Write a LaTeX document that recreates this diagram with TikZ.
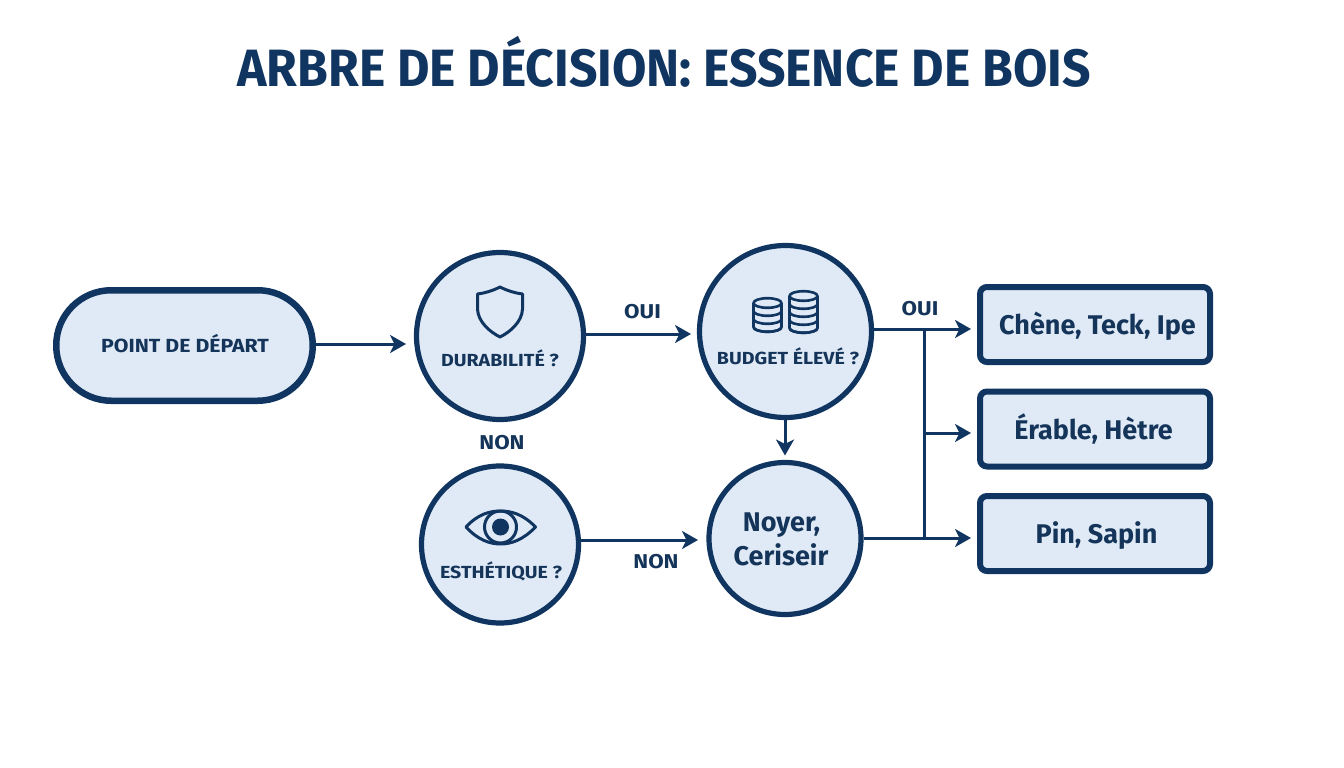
\documentclass[tikz,border=0pt]{standalone}
\usepackage{fontspec}
\setmainfont{Fira Sans}
\newfontfamily\capfont[FakeStretch=1.12]{Fira Sans}
\newfontfamily\titlefont[FakeStretch=0.95]{Fira Sans}
\usetikzlibrary{arrows.meta,calc}
\definecolor{navy}{HTML}{0F3560}
\definecolor{ink}{HTML}{143559}
\definecolor{pale}{HTML}{E0EAF6}
\tikzset{
  disc/.style={draw=navy,line width=5.2pt,fill=pale,circle,inner sep=0pt,minimum size=#1},
  outcome/.style={draw=navy,line width=6pt,fill=pale,rectangle,rounded corners=7pt,minimum width=230pt,minimum height=75pt},
  pillbox/.style={draw=navy,line width=6.5pt,fill=pale,rectangle,rounded corners=55pt,minimum width=256.5pt,minimum height=110.5pt},
  conn/.style={draw=navy,line width=3pt},
  arr/.style={conn,-{Stealth[length=16pt,width=18pt,inset=4.5pt]}},
  icon/.style={draw=navy,line width=2.6pt,line join=round},
  captext/.style={text=ink,font=\capfont\bfseries\fontsize{17.5}{20}\selectfont,inner sep=0pt,anchor=base},
  restext/.style={text=ink,font=\bfseries\fontsize{27}{34}\selectfont,inner sep=0pt,anchor=base},
  labtext/.style={text=ink,font=\capfont\bfseries\fontsize{20}{22}\selectfont,inner sep=0pt,anchor=base},
}
\newcommand{\coinstack}[3]{%
  % #1 = centre x, #2 = top ellipse y, #3 = number of further layers
  \draw[icon] (#1,#2) ellipse [x radius=14,y radius=4.8];
  \draw[icon] (#1-14,#2) -- (#1-14,#2+#3*8) arc[start angle=180,end angle=0,x radius=14,y radius=4.8] -- (#1+14,#2);
  \foreach \k in {1,...,#3}{
    \draw[icon] (#1-14,#2+\k*8) arc[start angle=180,end angle=0,x radius=14,y radius=4.8];
  }%
}
\begin{document}
\begin{tikzpicture}[x=1pt,y=-1pt]
\useasboundingbox (0,0) rectangle (1344,768);
\fill[white] (0,0) rectangle (1344,768);

\node[text=navy,font=\titlefont\bfseries\fontsize{52.5}{56}\selectfont,inner sep=0pt,anchor=base] (title) at (664,87) {ARBRE DE DÉCISION: ESSENCE DE BOIS};

% shapes
\node[pillbox] (start) at (184.5,345.5) {};
\node[disc=167pt] (durab) at (500,336) {};
\node[disc=172pt] (budget) at (785.5,331.5) {};
\node[disc=157pt] (esth) at (500,544.5) {};
\node[disc=152pt] (noyer) at (785,538.5) {};
\node[outcome] (r1) at (1095,324.5) {};
\node[outcome] (r2) at (1095,429) {};
\node[outcome] (r3) at (1095,533.5) {};

% texts
\node[captext,font=\capfont\bfseries\fontsize{19}{20}\selectfont] (tstart) at (185,352) {POINT DE DÉPART};
\node[captext] (tdurab) at (500,366) {DURABILITÉ ?};
\node[captext] (tbudget) at (788,364) {BUDGET ÉLEVÉ ?};
\node[captext] (testh) at (501,578) {ESTHÉTIQUE ?};
\node[restext] (tnoyer1) at (781.5,531) {Noyer,};
\node[restext] (tnoyer2) at (781,565) {Ceriseir};
\node[restext] (t1) at (1097.5,334) {Chène, Teck, Ipe};
\node[restext] (t2) at (1093.5,439) {Érable, Hètre};
\node[restext] (t3) at (1096.5,543) {Pin, Sapin};

% connector ends
\coordinate (a1) at (406,344);
\coordinate (a2) at (691,334);
\coordinate (a3) at (785,455.5);
\coordinate (a4) at (698,540);
\coordinate (a5) at (971,329);
\coordinate (a6) at (971,433);
\coordinate (a7) at (971,538);
\coordinate (jt) at (924,329);
\coordinate (jm) at (924,433);
\coordinate (jb) at (924,538);

\draw[arr] (start.east |- a1) -- (a1);
\draw[arr] (durab.east |- a2) -- (a2);
\draw[arr] (budget.south -| a3) -- (a3);
\draw[arr] (esth.east |- a4) -- (a4);
\draw[arr] (budget.east |- a5) -- (a5);
\draw[arr] (noyer.east |- a7) -- (a7);
\draw[conn] (jt) -- (jb);
\draw[arr] (jm) -- (a6);

% labels
\node[labtext] (l1) at (642.5,318) {OUI};
\node[labtext] (l2) at (920,315) {OUI};
\node[labtext] (l3) at (502,449) {NON};
\node[labtext] (l4) at (656,568) {NON};

% shield
\draw[icon,line width=3pt] (500,287) .. controls (492,291) and (485,293) .. (477.5,294)
  -- (477.5,309) .. controls (478,322) and (490,332) .. (500,337)
  .. controls (510,332) and (522,322) .. (522.5,309) -- (522.5,294)
  .. controls (515,293) and (508,291) .. (500,287) -- cycle;

% coins
\coinstack{767.5}{303}{3}
\coinstack{803.5}{296}{4}

% eye
\draw[icon,line width=3pt] (466,527) .. controls (478,514) and (490,511) .. (500.5,511)
  .. controls (511,511) and (523,514) .. (535.5,527)
  .. controls (523,540) and (511,544) .. (500.5,544)
  .. controls (490,544) and (478,540) .. (466,527) -- cycle;
\draw[icon,line width=3pt] (500.5,527) circle[radius=16];
\fill[navy] (500.5,527) circle[radius=8.5];
\end{tikzpicture}
\end{document}
